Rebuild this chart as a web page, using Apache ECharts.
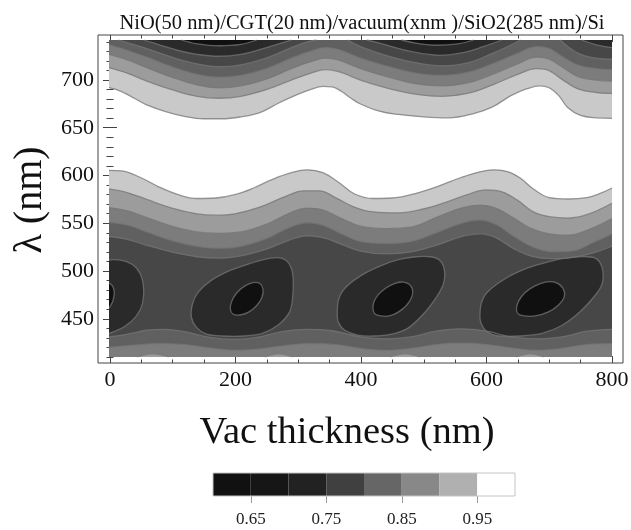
<!DOCTYPE html>
<html>
<head>
<meta charset="utf-8">
<script src="https://cdn.jsdelivr.net/npm/echarts@6/dist/echarts.min.js"></script>
<style>
  html, body { margin: 0; padding: 0; background: #fff; }
  #chart { width: 631px; height: 530px; }
</style>
</head>
<body>
<div id="chart"></div>
<script>
// contour levels (colour bar) and axis ticks
const levels = [0.60, 0.65, 0.70, 0.75, 0.80, 0.85, 0.90, 0.95, 1.00];
const legendTicks = [0.65, 0.75, 0.85, 0.95];
const xTicks = [0, 200, 400, 600, 800];
const xMinorTicks = [0, 50, 100, 150, 200, 250, 300, 350, 400, 450, 500, 550, 600, 650, 700, 750, 800];
const yTicks = [450, 500, 550, 600, 650, 700];
const yMinorTicks = [410, 420, 430, 440, 450, 460, 470, 480, 490, 500, 510, 520, 530, 540, 550, 560, 570, 580,
  590, 600, 610, 620, 630, 640, 650, 660, 670, 680, 690, 700, 710, 720, 730, 740];

// contour lines: [vac thickness (nm), lambda (nm)]
// upper group (level rises toward white going down)
const t95 = [[0,692],[20,688],[40,681],[60,674],[90,667],[120,662],[150,659.5],[180,659.5],[210,661.5],[240,666],[270,676],[300,685],[320,690],[340,693.5],[355,693],[370,688],[385,681],[400,675],[430,667.5],[460,664],[500,661.5],[540,660.5],[580,665],[610,672],[640,684],[665,691],[685,694],[700,692],[715,684],[730,671],[750,663],[775,660.5],[800,660]];
const t90 = [[0,713],[30,707],[60,699],[100,690],[140,683],[175,681],[210,683],[250,690],[290,700],[320,707],[345,711],[365,709],[385,704],[400,700],[440,692],[490,685],[530,683],[570,686],[610,695],[650,706],[680,712],[700,710],[720,701],[745,691],[775,687],[800,686]];
const t85 = [[0,727],[30,721],[60,713],[100,703],[140,695],[175,692],[210,694],[250,701],[290,712],[320,719],[345,723],[365,721],[385,716],[400,712],[440,704],[490,696],[530,694],[570,697],[610,706],[650,717],[680,724],[700,722],[720,714],[745,704],[775,700],[800,699]];
const t80 = [[0,737],[30,731],[60,724],[100,714],[140,706],[175,703],[210,705],[250,712],[290,723],[320,730],[345,734],[365,732],[385,727],[400,723],[440,715],[490,707],[530,705],[570,708],[610,717],[650,728],[680,735],[700,733],[720,725],[745,716],[775,712],[800,711]];
const t75a = [[15,742],[30,739],[60,733],[100,724],[140,717],[175,714],[210,716],[250,723],[290,734],[315,740],[330,742]];
const t75b = [[380,742],[400,735],[440,726],[490,718],[530,715],[570,718],[610,728],[640,737],[655,742]];
const t75c = [[718,742],[730,735],[750,727],[775,723],[800,722]];
const t70a = [[55,742],[80,737],[110,731],[140,727],[175,725],[210,727],[245,733],[270,738],[290,742]];
const t70b = [[410,742],[440,737],[480,730],[525,726],[565,729],[595,735],[625,742]];
const t70c = [[752,742],[775,737],[800,734]];
const t65a = [[115,742],[140,738],[175,736],[210,737.5],[235,742]];
const t65b = [[465,742],[490,738.5],[520,736.5],[555,738],[580,742]];

// lower group, upper side
const u95 = [[0,605.5],[20,605],[50,598],[80,588],[110,580],[140,576],[170,576.5],[200,580],[230,587],[260,596],[290,603],[315,606],[340,603],[365,593],[390,581],[420,576],[450,576.5],[480,580],[520,588],[560,598],[590,604],[612,606],[635,604],[655,597],[675,586],[700,577],[730,575.5],[760,577],[780,581],[800,587]];
const u90 = [[0,586],[30,582],[60,575],[100,566],[140,560],[170,558.5],[200,560],[240,567],[280,578],[310,584],[335,584],[360,577],[390,567],[420,562],[460,561],[500,565],[540,573],[570,580],[600,585],[625,583],[650,574],[675,562],[700,557],[730,555.5],[760,559],[800,571]];
const u85 = [[0,566.5],[30,563],[60,556],[100,547],[140,541],[175,539.5],[210,541],[250,549],[285,560],[315,566],[340,564],[370,555],[400,547],[440,544.5],[480,546],[520,556],[560,566],[590,569],[615,566],[645,555],[670,545],[700,539],[730,537.5],[765,544],[800,555]];
const u80 = [[0,551],[30,548],[60,541],[100,532],[140,526],[175,524],[210,526],[250,534],[285,545],[315,550.5],[340,548],[370,539],[400,531],[440,529],[480,531],[520,540],[560,550],[590,553.5],[615,549],[645,536],[675,525],[705,520.5],[735,521],[770,530],[800,539]];
const u75 = [[0,536],[30,533],[60,527],[100,520],[140,515],[175,513.5],[210,516],[250,523],[285,532],[315,537],[340,535],[370,528],[400,521],[440,518],[480,520],[520,527],[560,536],[590,539],[615,535],[645,523],[675,515],[705,513],[735,514],[770,519],[800,526]];

// lower group, bottom side
const b75 = [[0,431],[30,434],[60,438],[90,439],[120,436.5],[160,430.5],[200,428.5],[235,430.5],[275,436.5],[315,439],[355,437.5],[400,431],[440,429],[480,431],[520,437],[560,439.5],[600,437],[640,431],[680,429],[720,431],[760,437],[800,439]];
const b80 = [[0,420],[40,422.5],[80,424],[120,423],[160,419.5],[200,417],[240,418.5],[280,422],[320,424],[360,423],[400,419],[440,417],[480,419],[520,423],[560,424.5],[600,423],[640,419.5],[680,417],[720,419],[760,423],[800,424]];
const lens1 = [[45,410],[57,412.3],[70,413.3],[83,412.3],[95,410]];
const lens2 = [[248,410],[259,412.3],[270,413.3],[281,412.3],[292,410]];
const lens3 = [[447,410],[459,412.3],[471,413.3],[483,412.3],[495,410]];
const lens4 = [[648,410],[659,412.3],[670,413.3],[681,412.3],[692,410]];

// closed contours around the minima near 470 nm
const blob0 = [[-107,452],[-105,466],[-96,478],[-76,490],[-48,500],[-20,508],[5,512],[28,510],[44,503],[53,491],[55,474],[50,460],[35,447],[10,437],[-23,432],[-58,432],[-83,434],[-99,441]];
const blob1 = [[131,452],[133,466],[142,478],[162,490],[190,500],[220,507],[246,512],[268,514],[282,511],[290,503],[293,492],[292,472],[287,457],[270,444],[245,435],[215,432],[180,432],[155,434],[139,441]];
const blob2 = [[363,455],[365,470],[375,482],[400,495],[430,505],[460,512],[488,515],[512,515],[525,512],[532,505],[534,495],[531,485],[520,472],[500,455],[475,440],[450,434],[420,432],[395,433],[375,438],[365,446]];
const blob3 = [[590,452],[592,466],[602,478],[630,492],[665,503],[700,510],[733,514],[760,515],[775,513],[783,506],[786,496],[784,486],[775,476],[750,458],[720,443],[690,435],[655,432],[620,432],[600,437],[592,445]];
const core0 = [[-50,460],[-48,470],[-38,481],[-22,488],[-5,489],[6,484],[8,474],[2,463],[-12,456],[-30,453],[-45,454]];
const core1 = [[193,460],[195,468],[203,477],[215,484],[229,488],[240,487],[245,481],[243,472],[235,464],[222,457],[208,454],[197,455]];
const core2 = [[420,460],[421,467],[428,475],[440,482],[455,487],[468,488.5],[478,486],[483,480],[481,472],[473,464],[460,457],[446,453],[432,453],[423,455]];
const core3 = [[648,460],[651,468],[661,477],[676,484],[694,488.5],[711,488],[722,482],[724,473],[714,464],[698,457],[678,453],[660,453],[651,455]];

// greys: plot bands and colour bar boxes, 0.60-0.65 ... 0.95-1.00
const bandColors = ['#101010', '#2a2a2a', '#474747', '#606060', '#7c7c7c', '#9c9c9c', '#c9c9c9', '#ffffff'];
const barColors = ['#111111', '#161616', '#222222', '#404040', '#666666', '#888888', '#b0b0b0', '#ffffff'];
const lineColor = 'rgba(118,118,118,0.75)';
const serif = '"Liberation Serif", "Times New Roman", serif';

const chart = echarts.init(document.getElementById('chart'), null, { renderer: 'canvas', width: 631, height: 530 });

function band(data, fill, origin) {
  return {
    type: 'line', xAxisIndex: 4, yAxisIndex: 4, data: data,
    smooth: 0.4, symbol: 'none', showSymbol: false, silent: true, animation: false,
    lineStyle: { color: lineColor, width: 1.3 },
    areaStyle: { color: fill, opacity: 1, origin: origin }
  };
}

// closed smooth outline (Catmull-Rom) through the pixel points
function closedPath(pts) {
  const n = pts.length;
  let d = 'M' + pts[0][0].toFixed(2) + ',' + pts[0][1].toFixed(2);
  for (let i = 0; i < n; i++) {
    const p0 = pts[(i - 1 + n) % n], p1 = pts[i], p2 = pts[(i + 1) % n], p3 = pts[(i + 2) % n];
    const c1 = [p1[0] + (p2[0] - p0[0]) / 6, p1[1] + (p2[1] - p0[1]) / 6];
    const c2 = [p2[0] - (p3[0] - p1[0]) / 6, p2[1] - (p3[1] - p1[1]) / 6];
    d += 'C' + c1[0].toFixed(2) + ',' + c1[1].toFixed(2) + ' ' + c2[0].toFixed(2) + ',' + c2[1].toFixed(2) +
      ' ' + p2[0].toFixed(2) + ',' + p2[1].toFixed(2);
  }
  return d + 'Z';
}

function loops(shapes, fill, z) {
  return {
    type: 'custom', xAxisIndex: 4, yAxisIndex: 4, clip: true, silent: true, animation: false, z: z,
    data: shapes.map((s, i) => [i, 0]),
    renderItem: function (params, api) {
      const pts = shapes[params.dataIndex].map(p => api.coord(p));
      return {
        type: 'path',
        shape: { pathData: closedPath(pts) },
        style: { fill: fill, stroke: lineColor, lineWidth: 1.3 }
      };
    }
  };
}

const tickLine = { color: '#444', width: 1 };
const labelFont = { fontFamily: serif, fontSize: 22, color: '#111' };

function frameAxis(pos, min, max, ticks, len, labels) {
  return {
    type: 'value', gridIndex: 0, position: pos, min: min, max: max,
    axisLine: { show: false },
    splitLine: { show: false },
    axisTick: { show: true, inside: true, length: len, customValues: ticks, lineStyle: tickLine },
    axisLabel: labels
      ? Object.assign({ show: true, customValues: ticks, margin: pos === 'bottom' ? 6 : 4 }, labelFont)
      : { show: false }
  };
}

const hiddenAxis = (grid, min, max) => ({
  type: 'value', gridIndex: grid, min: min, max: max, show: false,
  axisLine: { show: false }, axisTick: { show: false }, axisLabel: { show: false }, splitLine: { show: false }
});

const option = {
  animation: false,
  backgroundColor: '#fff',
  grid: [
    { left: 98, top: 35, width: 525, height: 328, show: true, borderColor: '#444', borderWidth: 1,
      backgroundColor: 'transparent', z: 5, containLabel: false, outerBoundsMode: 'none' },
    { left: 109, top: 40, width: 503, height: 317, containLabel: false, outerBoundsMode: 'none' },
    { left: 213, top: 473, width: 302, height: 23, show: true, borderColor: '#c4c4c4', borderWidth: 1,
      backgroundColor: 'transparent', z: 5, containLabel: false, outerBoundsMode: 'none' }
  ],
  xAxis: [
    frameAxis('bottom', -19.1, 817.5, xTicks, 7, true),
    frameAxis('bottom', -19.1, 817.5, xMinorTicks, 3.5, false),
    frameAxis('top', -19.1, 817.5, xTicks, 7, false),
    frameAxis('top', -19.1, 817.5, xMinorTicks, 3.5, false),
    hiddenAxis(1, 0, 800),
    {
      type: 'value', gridIndex: 2, position: 'bottom', min: 0.6, max: 1.0,
      axisLine: { show: false }, splitLine: { show: false },
      axisTick: { show: true, inside: false, length: 7, customValues: legendTicks, lineStyle: { color: '#999', width: 1 } },
      axisLabel: { show: true, customValues: legendTicks, margin: 15, fontFamily: serif, fontSize: 17, color: '#222',
        formatter: v => v.toFixed(2) }
    }
  ],
  yAxis: [
    frameAxis('left', 403.7, 747.1, yTicks, 7, true),
    frameAxis('left', 403.7, 747.1, yMinorTicks, 3.5, false),
    frameAxis('right', 403.7, 747.1, yTicks, 7, false),
    frameAxis('right', 403.7, 747.1, yMinorTicks, 3.5, false),
    hiddenAxis(1, 410, 742),
    hiddenAxis(2, 0, 1)
  ],
  graphic: [
    { type: 'text', x: 362, y: 24, silent: true,
      style: { text: 'NiO(50 nm)/CGT(20 nm)/vacuum(xnm )/SiO2(285 nm)/Si', font: '20.5px ' + serif, fill: '#111',
        textAlign: 'center', textVerticalAlign: 'middle' } },
    { type: 'text', x: 30, y: 200, rotation: Math.PI / 2, silent: true,
      style: { text: 'λ (nm)', font: '40px ' + serif, fill: '#111', textAlign: 'center', textVerticalAlign: 'middle' } },
    { type: 'text', x: 347, y: 433, silent: true,
      style: { text: 'Vac thickness (nm)', font: '38.5px ' + serif, fill: '#111', textAlign: 'center', textVerticalAlign: 'middle' } }
  ],
  series: [
    // upper group, filled toward the top edge
    band(t95, bandColors[6], 'end'),
    band(t90, bandColors[5], 'end'),
    band(t85, bandColors[4], 'end'),
    band(t80, bandColors[3], 'end'),
    band(t75a, bandColors[2], 'end'),
    band(t75b, bandColors[2], 'end'),
    band(t75c, bandColors[2], 'end'),
    band(t70a, bandColors[1], 'end'),
    band(t70b, bandColors[1], 'end'),
    band(t70c, bandColors[1], 'end'),
    band(t65a, bandColors[0], 'end'),
    band(t65b, bandColors[0], 'end'),
    // lower group, filled toward the bottom edge
    band(u95, bandColors[6], 'start'),
    band(u90, bandColors[5], 'start'),
    band(u85, bandColors[4], 'start'),
    band(u80, bandColors[3], 'start'),
    band(u75, bandColors[2], 'start'),
    band(b75, bandColors[3], 'start'),
    band(b80, bandColors[4], 'start'),
    band(lens1, bandColors[5], 'start'),
    band(lens2, bandColors[5], 'start'),
    band(lens3, bandColors[5], 'start'),
    band(lens4, bandColors[5], 'start'),
    loops([blob0, blob1, blob2, blob3], bandColors[1], 3),
    loops([core0, core1, core2, core3], bandColors[0], 4),
    // colour bar
    {
      type: 'custom', xAxisIndex: 5, yAxisIndex: 5, silent: true, animation: false,
      data: levels.slice(0, -1).map((lo, i) => [lo, levels[i + 1]]),
      renderItem: function (params, api) {
        const a = api.coord([api.value(0), 1]);
        const b = api.coord([api.value(1), 0]);
        return {
          type: 'rect',
          shape: { x: a[0], y: a[1], width: b[0] - a[0], height: b[1] - a[1] },
          style: { fill: barColors[params.dataIndex] }
        };
      }
    }
  ]
};

chart.setOption(option);
</script>
</body>
</html>
